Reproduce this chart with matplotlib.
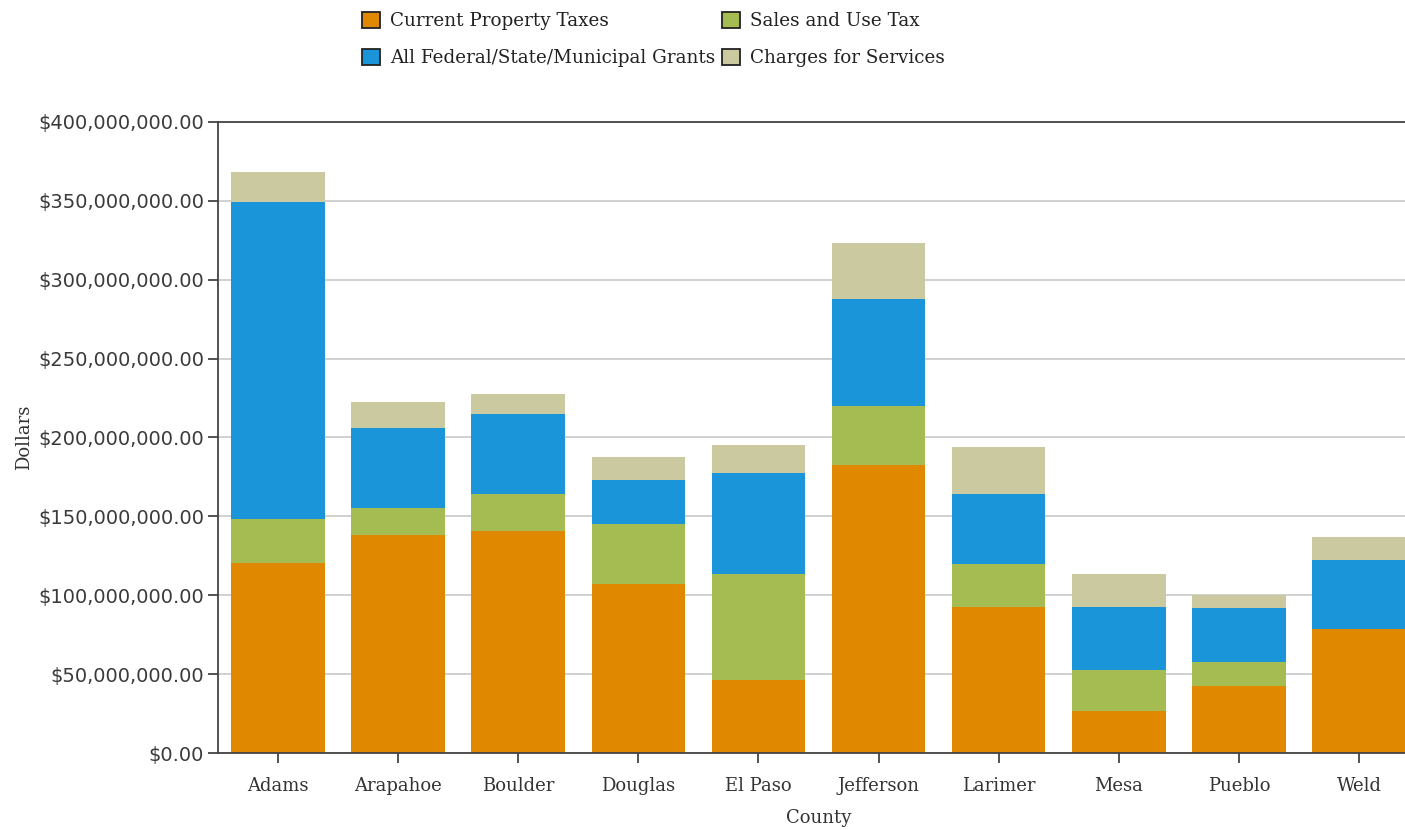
import matplotlib
matplotlib.use("Agg")
import matplotlib.pyplot as plt
import numpy as np
from matplotlib.ticker import FuncFormatter
from matplotlib.patches import Patch

counties = ["Adams", "Arapahoe", "Boulder", "Douglas", "El Paso",
            "Jefferson", "Larimer", "Mesa", "Pueblo", "Weld"]
property_taxes = [120.4, 138.2, 140.7, 107.1, 46.3, 182.6, 92.6, 26.6, 42.5, 78.6]
sales_use_tax = [27.9, 17.1, 23.5, 38.1, 67.2, 37.4, 27.2, 26.0, 15.2, 0.0]
grants = [201.0, 50.7, 50.7, 27.9, 64.0, 67.8, 44.4, 40.0, 34.2, 43.7]
charges = [19.0, 16.5, 12.7, 14.5, 17.7, 35.5, 29.8, 20.9, 8.3, 14.6]

series_names = ["Current Property Taxes", "Sales and Use Tax",
                "All Federal/State/Municipal Grants", "Charges for Services"]
colors = ["#E08800", "#A4BC52", "#1B95D9", "#CBC99F"]

fig = plt.figure(figsize=(14.05, 8.3), dpi=100)
ax = fig.add_axes([218/1405, 77/830, 1201/1405, 631/830])

x = np.arange(len(counties))
scale = 1e6
bottom = np.zeros(len(counties))
for vals, col in zip([property_taxes, sales_use_tax, grants, charges], colors):
    v = np.array(vals) * scale
    ax.bar(x, v, 0.78, bottom=bottom, color=col, zorder=2, linewidth=0)
    bottom += v

ax.set_xlim(-0.5, len(counties) - 0.5)
ax.set_ylim(0, 400e6)
ax.set_yticks(np.arange(0, 400e6 + 1, 50e6))
ax.yaxis.set_major_formatter(FuncFormatter(lambda v, p: "${:,.2f}".format(v)))
ax.grid(axis="y", color="#C8C8C8", linewidth=1.2, zorder=0)
ax.set_xticks(x)
ax.set_xticklabels(counties, family="DejaVu Serif", fontsize=13, color="#333333")
for lab in ax.get_yticklabels():
    lab.set_family("DejaVu Sans")
    lab.set_fontsize(14)
    lab.set_color("#3a3a3a")
for s in ["left", "bottom", "top"]:
    ax.spines[s].set_color("#444444")
    ax.spines[s].set_linewidth(1.3)
ax.spines["right"].set_visible(False)
ax.tick_params(axis="both", color="#444444", length=7, width=1.3)
ax.tick_params(axis="x", pad=10)
ax.tick_params(axis="y", pad=3)

ax.set_ylabel("Dollars", family="DejaVu Serif", fontsize=13, color="#333333", labelpad=4)
ax.set_xlabel("County", family="DejaVu Serif", fontsize=13, color="#333333", labelpad=10)

handles = [Patch(facecolor=colors[i], edgecolor="#222222", linewidth=1.3) for i in range(4)]
order = [0, 2, 1, 3]
fig.legend([handles[i] for i in order], [series_names[i] for i in order],
           ncol=2, loc="upper left", bbox_to_anchor=(362/1405, 1 - 12/830),
           frameon=False, prop={"family": "DejaVu Serif", "size": 13.2},
           borderpad=0, borderaxespad=0,
           handlelength=1.0, handleheight=1.0, handletextpad=0.55,
           columnspacing=0.35, labelspacing=1.0, labelcolor="#222222")

fig.savefig("out.png", dpi=100)
